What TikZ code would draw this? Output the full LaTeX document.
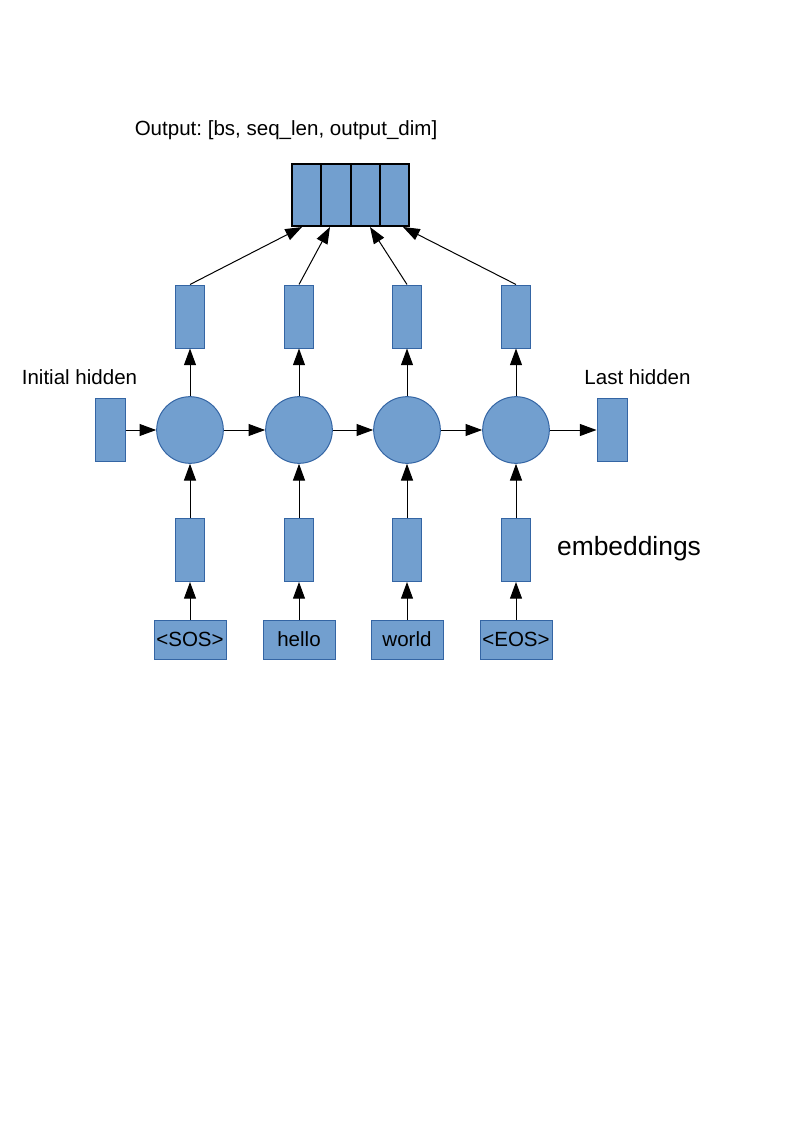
\documentclass[tikz,border=0pt]{standalone}
\usepackage{fontspec}
\setmainfont{Liberation Sans}
\usetikzlibrary{arrows.meta}
\definecolor{boxfill}{HTML}{729FCF}
\definecolor{boxline}{HTML}{3465A4}
\frenchspacing
\begin{document}
\begin{tikzpicture}[x=0.75pt,y=-0.75pt,
  lbl/.style={font=\fontsize{15.4}{18}\selectfont, inner sep=0pt},
  vec/.style={draw=boxline, fill=boxfill, line width=0.75pt, minimum width=21.75pt, minimum height=47.25pt, inner sep=0pt},
  cell/.style={draw=black, fill=boxfill, line width=1.6pt, minimum width=22pt, minimum height=46.5pt, inner sep=0pt, outer sep=0pt},
  rnn/.style={circle, draw=boxline, fill=boxfill, line width=0.75pt, minimum size=50pt, inner sep=0pt},
  word/.style={draw=boxline, fill=boxfill, line width=0.75pt, minimum width=54pt, minimum height=29.25pt, inner sep=0pt, font=\fontsize{15.4}{18}\selectfont},
  arr/.style={-{Triangle[length=12.5pt,width=9pt]}, line width=0.75pt, black}]
\useasboundingbox (0,0) rectangle (794,1123);

% output tensor
\node[cell] (c1) at (306.5,195) {};
\node[cell] (c2) at (336,195) {};
\node[cell] (c3) at (365.5,195) {};
\node[cell] (c4) at (394.5,195) {};
\coordinate (t1) at (302,227);
\coordinate (t2) at (330,227);
\coordinate (t3) at (370,227);
\coordinate (t4) at (403,227);
\node[lbl] (outlbl) at (286,130) {Output: [bs, seq\_len, output\_dim]};

% hidden states
\node[vec, minimum width=22.5pt] (init) at (110,430) {};
\node[vec, minimum width=22.5pt] (last) at (612,430) {};
\node[lbl] (initlbl) at (79.5,377) {Initial hidden};
\node[lbl] (lastlbl) at (637.5,377) {Last hidden};
\node[font=\fontsize{19.8}{24}\selectfont, inner sep=0pt] (emblbl) at (629,549) {embeddings};

% columns
\foreach \i/\x/\w in {1/190/{<SOS>},2/299/hello,3/407/world,4/516/{<EOS>}}{
  \node[vec] (up\i) at (\x,316.5) {};
  \node[rnn] (h\i) at (\x,430) {};
  \node[vec] (emb\i) at (\x,550) {};
  \node[word] (w\i) at (\x,639.5) {\w};
  \draw[arr] (w\i) -- (emb\i);
  \draw[arr] (emb\i) -- (h\i);
  \draw[arr] (h\i) -- (up\i);
  \draw[arr] (up\i.north) -- (t\i);
}

\draw[arr] (init) -- (h1);
\draw[arr] (h1) -- (h2);
\draw[arr] (h2) -- (h3);
\draw[arr] (h3) -- (h4);
\draw[arr] (h4) -- (last);
\end{tikzpicture}
\end{document}
